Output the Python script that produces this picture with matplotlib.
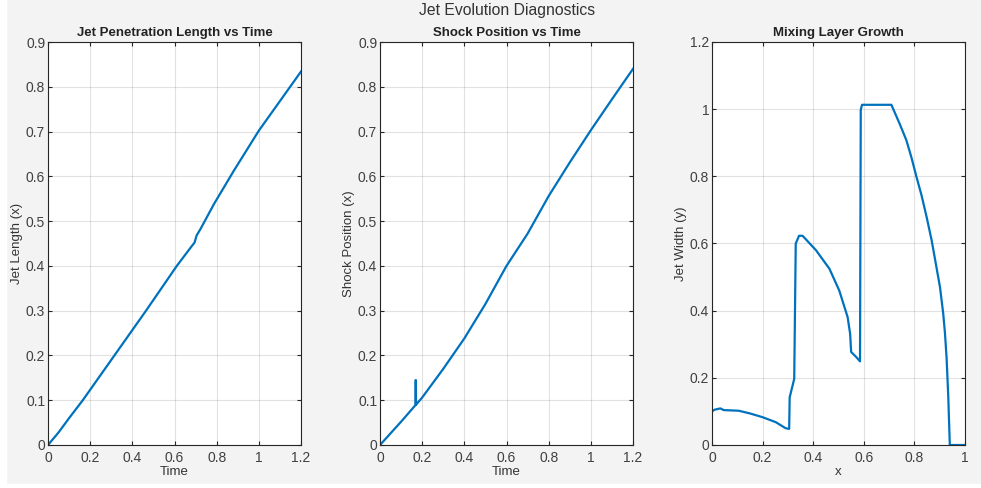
import numpy as np
import matplotlib.pyplot as plt
from matplotlib.patches import Rectangle

plt.rcParams['font.family'] = ['Liberation Sans', 'DejaVu Sans']

# Jet penetration length
t_jet = [0, 0.05, 0.1, 0.165, 0.315, 0.465, 0.611, 0.68, 0.695, 0.700, 0.705,
         0.724, 0.787, 0.882, 1.0, 1.1, 1.2]
len_jet = [0, 0.028, 0.06, 0.1, 0.2, 0.3, 0.4, 0.443, 0.452, 0.46, 0.468,
           0.483, 0.538, 0.613, 0.702, 0.768, 0.834]

# Shock position (with the small spike near t=0.17)
t_shock = [0, 0.1, 0.168, 0.169, 0.170, 0.171, 0.2, 0.3, 0.4, 0.5, 0.6, 0.7,
           0.8, 0.9, 1.0, 1.1, 1.2]
pos_shock = [0, 0.052, 0.089, 0.145, 0.145, 0.09, 0.106, 0.17, 0.238, 0.315,
             0.40, 0.472, 0.556, 0.631, 0.703, 0.772, 0.840]

# Mixing layer width profile
x_mix = [0, 0.01, 0.033, 0.046, 0.106, 0.15, 0.199, 0.252, 0.291, 0.305, 0.307,
         0.325, 0.331, 0.344, 0.358, 0.411, 0.464, 0.503, 0.536, 0.546, 0.55,
         0.57, 0.585, 0.588, 0.593, 0.709, 0.742, 0.768, 0.788, 0.808, 0.828,
         0.848, 0.868, 0.887, 0.901, 0.914, 0.921, 0.927, 0.930, 0.934, 0.936,
         0.940, 1.0]
w_mix = [0.10, 0.105, 0.109, 0.104, 0.102, 0.094, 0.083, 0.068, 0.05, 0.048,
         0.142, 0.197, 0.60, 0.623, 0.623, 0.58, 0.525, 0.46, 0.381, 0.331,
         0.277, 0.262, 0.249, 0.998, 1.013, 1.013, 0.956, 0.908, 0.857, 0.799,
         0.744, 0.68, 0.61, 0.53, 0.471, 0.391, 0.331, 0.262, 0.212, 0.142,
         0.093, 0, 0]

blue = '#0072BD'
W, H = 981, 488
fig = plt.figure(figsize=(W / 100, H / 100), dpi=100, facecolor='#f3f3f3')
fig.patches.append(Rectangle((0, 0), 6 / W, 1, transform=fig.transFigure,
                             color='white', zorder=-1))
fig.patches.append(Rectangle((0, 0), 1, 4 / H, transform=fig.transFigure,
                             color='white', zorder=-1))

def make_ax(left_px, xlim, ylim, xt, yt):
    ax = fig.add_axes([left_px / W, (H - 445) / H, 253 / W, 403 / H])
    ax.set_xlim(xlim)
    ax.set_ylim(ylim)
    ax.set_xticks(xt)
    ax.set_yticks(yt)
    ax.set_xticklabels([('%g' % v) for v in xt])
    ax.set_yticklabels([('%g' % v) for v in yt])
    ax.grid(True, color='#262626', alpha=0.13, lw=0.8)
    ax.tick_params(direction='in', top=True, right=True, length=3,
                   width=0.8, color='#262626', labelsize=10,
                   labelcolor='#404040')
    ax.tick_params(axis='x', pad=4)
    ax.tick_params(axis='y', pad=2)
    for s in ax.spines.values():
        s.set_color('#262626')
        s.set_linewidth(0.8)
    return ax

def label(ax, title, xl, yl):
    ax.set_title(title, fontsize=9.5, fontweight='bold', color='#222222', pad=4)
    ax.set_xlabel(xl, fontsize=9.5, color='#333333', labelpad=1)
    ax.set_ylabel(yl, fontsize=9.5, color='#333333')
    ax.yaxis.set_label_coords(-0.10, 0.5)

ax1 = make_ax(48, (0, 1.2), (0, 0.9), np.arange(0, 1.21, 0.2), np.arange(0, 0.91, 0.1))
ax1.plot(t_jet, len_jet, color=blue, lw=1.6)
label(ax1, 'Jet Penetration Length vs Time', 'Time', 'Jet Length (x)')

ax2 = make_ax(380, (0, 1.2), (0, 0.9), np.arange(0, 1.21, 0.2), np.arange(0, 0.91, 0.1))
ax2.plot(t_shock, pos_shock, color=blue, lw=1.6)
label(ax2, 'Shock Position vs Time', 'Time', 'Shock Position (x)')

ax3 = make_ax(712, (0, 1), (0, 1.2), np.arange(0, 1.01, 0.2), np.arange(0, 1.21, 0.2))
ax3.plot(x_mix, w_mix, color=blue, lw=1.6)
label(ax3, 'Mixing Layer Growth', 'x', 'Jet Width (y)')

fig.text(507 / W, 1 - 11 / H, 'Jet Evolution Diagnostics', ha='center',
         va='center', fontsize=11.3, color='#333333')

fig.savefig('out.png', dpi=100, facecolor=fig.get_facecolor())
